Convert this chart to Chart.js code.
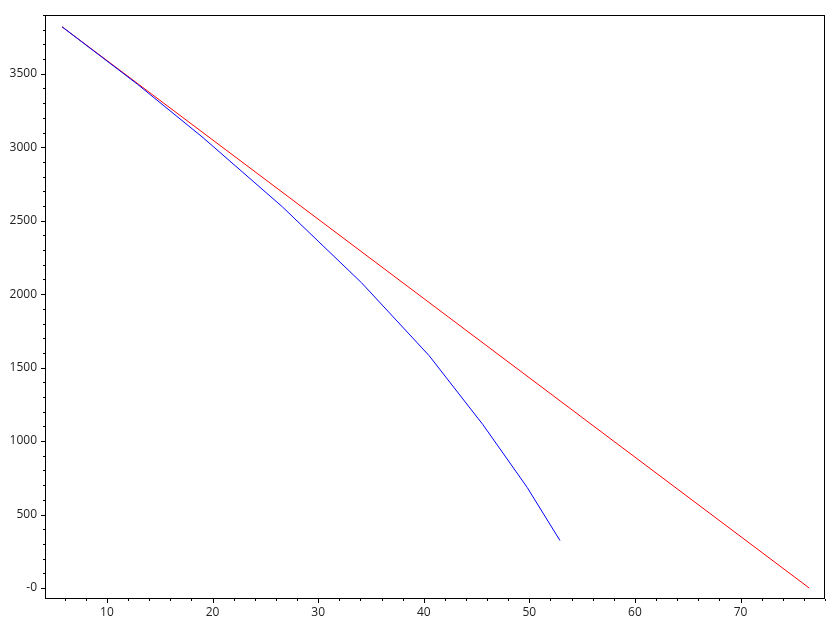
<!DOCTYPE html>
<html>
<head>
<meta charset="utf-8">
<script src="https://cdn.jsdelivr.net/npm/chart.js@4/dist/chart.umd.min.js"></script>
<style>
html,body{margin:0;padding:0;background:#fff;}
canvas{display:block;}
</style>
</head>
<body>
<canvas id="c" width="840" height="630"></canvas>
<script>
const blueX = [5.74, 12.9, 19.1, 26.6, 34.1, 40.5, 45.6, 49.8, 52.9];
const blueY = [3820, 3428, 3065, 2595, 2078, 1582, 1112, 684, 323];
const redX = [5.74, 76.5];
const redY = [3820, 0];
const xTickValues = [10, 20, 30, 40, 50, 60, 70];
const xTickLabels = ['10', '20', '30', '40', '50', '60', '70'];
const yTickValues = [0, 500, 1000, 1500, 2000, 2500, 3000, 3500];
const yTickLabels = ['-0', '500', '1000', '1500', '2000', '2500', '3000', '3500'];
const xMinorStep = 2;
const yMinorStep = 100;
const xRange = [4.13, 78.0];
const yRange = [-75, 3900];

const toPts = (xs, ys) => xs.map((x, i) => ({x: x, y: ys[i]}));

const framePlugin = {
  id: 'frame',
  afterDraw(chart) {
    const ctx = chart.ctx;
    const a = chart.chartArea;
    const xs = chart.scales.x, ys = chart.scales.y;
    ctx.save();
    ctx.strokeStyle = '#000';
    ctx.lineWidth = 1;
    ctx.strokeRect(Math.round(a.left) + 0.5, Math.round(a.top) + 0.5,
      Math.round(a.right - a.left) - 1, Math.round(a.bottom - a.top) - 1);
    ctx.beginPath();
    for (let v = Math.ceil(xs.min / xMinorStep) * xMinorStep; v <= xs.max; v += xMinorStep) {
      const px = Math.round(xs.getPixelForValue(v)) + 0.5;
      const major = xTickValues.includes(v);
      ctx.moveTo(px, Math.round(a.bottom));
      ctx.lineTo(px, Math.round(a.bottom) + (major ? 4 : 2));
    }
    for (let v = Math.ceil(ys.min / yMinorStep) * yMinorStep; v <= ys.max; v += yMinorStep) {
      const py = Math.round(ys.getPixelForValue(v)) + 0.5;
      const major = yTickValues.includes(v);
      ctx.moveTo(Math.round(a.left), py);
      ctx.lineTo(Math.round(a.left) - (major ? 4 : 2), py);
    }
    ctx.stroke();
    ctx.restore();
  }
};

new Chart(document.getElementById('c'), {
  type: 'scatter',
  data: {
    datasets: [
      {data: toPts(blueX, blueY), showLine: true, borderColor: '#0000ff', borderWidth: 1, pointRadius: 0, fill: false, tension: 0},
      {data: toPts(redX, redY), showLine: true, borderColor: '#ff0000', borderWidth: 1, pointRadius: 0, fill: false, tension: 0}
    ]
  },
  options: {
    responsive: false,
    animation: false,
    devicePixelRatio: 1,
    layout: {padding: {left: 0, top: 15, right: 15, bottom: 0}},
    plugins: {legend: {display: false}, tooltip: {enabled: false}},
    scales: {
      x: {
        type: 'linear', min: xRange[0], max: xRange[1],
        afterBuildTicks: s => { s.ticks = xTickValues.map(v => ({value: v})); },
        afterFit: s => { s.height = 31; },
        grid: {display: true, drawOnChartArea: false, drawTicks: true, tickLength: 4, tickColor: 'rgba(0,0,0,0)'},
        border: {display: false},
        ticks: {
          padding: 2, color: '#222', font: {family: 'Open Sans', size: 12}, maxRotation: 0,
          callback: (v) => { const i = xTickValues.indexOf(v); return i >= 0 ? xTickLabels[i] : ''; }
        }
      },
      y: {
        type: 'linear', min: yRange[0], max: yRange[1],
        afterBuildTicks: s => { s.ticks = yTickValues.map(v => ({value: v})); },
        afterFit: s => { s.width = 45; },
        grid: {display: true, drawOnChartArea: false, drawTicks: true, tickLength: 4, tickColor: 'rgba(0,0,0,0)'},
        border: {display: false},
        ticks: {
          padding: 4, color: '#222', font: {family: 'Open Sans', size: 12},
          callback: (v) => { const i = yTickValues.indexOf(v); return i >= 0 ? yTickLabels[i] : ''; }
        }
      }
    }
  },
  plugins: [framePlugin]
});
</script>
</body>
</html>
